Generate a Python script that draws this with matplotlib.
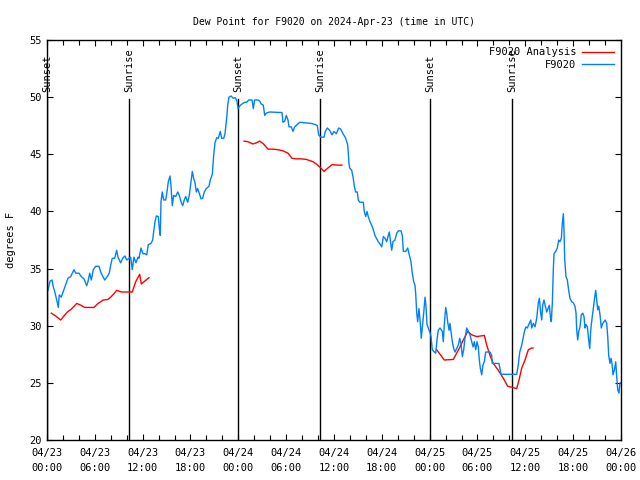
import matplotlib
matplotlib.use("Agg")
import matplotlib.pyplot as plt
import matplotlib.dates as mdates
import pandas as pd
import numpy as np

plt.rcParams.update({
    "font.family": "DejaVu Sans Mono",
    "font.size": 7.5,
})

# -----------------------------------------------------------
# data (hours since 2024-04-23 00:00 UTC, degrees F)
# -----------------------------------------------------------
base = pd.Timestamp("2024-04-23 00:00")

obs_hours = [
    0.13, 0.38, 0.63, 0.79, 0.97, 1.22, 1.42, 1.54, 1.79, 2.04, 2.35, 2.63, 2.97, 3.39, 3.60,
    4.01, 4.30, 4.64, 4.98, 5.14, 5.36, 5.56, 5.81, 6.11, 6.52, 6.74, 6.94, 7.24, 7.56, 7.81,
    7.99, 8.19, 8.49, 8.74, 8.91, 9.24, 9.50, 9.78, 10.0, 10.29, 10.50, 10.70, 10.91, 11.16, 11.42,
    11.54, 11.79, 12.04, 12.29, 12.51, 12.71, 13.05, 13.26, 13.38, 13.55, 13.71, 13.96, 14.09, 14.21, 14.30,
    14.46, 14.64, 14.89, 15.05, 15.22, 15.43, 15.55, 15.72, 15.89, 16.14, 16.40, 16.60, 16.81, 17.02, 17.22,
    17.40, 17.65, 17.85, 18.06, 18.23, 18.40, 18.57, 18.73, 18.90, 19.10, 19.32, 19.53, 19.73, 19.98, 20.32,
    20.48, 20.74, 20.91, 21.07, 21.29, 21.49, 21.74, 21.91, 22.17, 22.33, 22.54, 22.67, 22.83, 23.08, 23.37,
    23.62, 23.83, 23.96, 24.21, 24.46, 24.80, 25.05, 25.30, 25.72, 25.88, 26.05, 26.47, 26.68, 26.88, 27.13,
    27.31, 27.51, 27.94, 29.48, 29.60, 29.82, 30.02, 30.23, 30.36, 30.64, 30.86, 31.07, 31.40, 31.70, 33.15,
    33.66, 33.91, 34.08, 34.33, 34.75, 34.91, 35.16, 35.46, 35.75, 36.00, 36.29, 36.59, 36.84, 37.13, 37.47,
    37.72, 37.80, 37.88, 37.97, 38.22, 38.42, 38.55, 38.72, 38.92, 39.05, 39.23, 39.68, 39.80, 39.98, 40.14,
    40.30, 40.52, 40.73, 40.93, 41.14, 41.36, 41.56, 41.77, 41.99, 42.19, 42.40, 42.61, 42.81, 42.94, 43.06,
    43.24, 43.40, 43.65, 43.87, 44.07, 44.41, 44.57, 44.70, 45.00, 45.25, 45.41, 45.66, 45.82, 46.00, 46.16,
    46.25, 46.38, 46.50, 46.66, 46.83, 46.95, 47.13, 47.25, 47.42, 47.54, 47.67, 47.83, 48.04, 48.17, 48.33,
    48.58, 48.76, 48.92, 49.08, 49.30, 49.59, 49.71, 49.84, 50.01, 50.14, 50.26, 50.43, 50.55, 50.68, 50.84,
    51.02, 51.18, 51.39, 51.59, 51.77, 51.93, 52.10, 52.27, 52.43, 52.65, 52.85, 53.06, 53.28, 53.44, 53.60,
    53.78, 53.94, 54.10, 54.23, 54.35, 54.53, 54.69, 54.86, 55.03, 55.57, 55.78, 55.86, 56.70, 56.95, 58.92,
    59.12, 59.30, 59.55, 59.75, 59.92, 60.09, 60.25, 60.50, 60.68, 60.80, 61.00, 61.22, 61.43, 61.63, 61.76,
    61.93, 62.06, 62.18, 62.34, 62.51, 62.68, 62.85, 63.01, 63.14, 63.26, 63.39, 63.51, 63.60, 63.81, 64.01,
    64.19, 64.35, 64.52, 64.64, 64.77, 64.85, 64.94, 65.10, 65.27, 65.44, 65.60, 65.82, 66.02, 66.23, 66.36,
    66.45, 66.57, 66.70, 66.86, 67.02, 67.20, 67.36, 67.49, 67.61, 67.78, 67.95, 68.08, 68.20, 68.37, 68.53,
    68.70, 68.83, 68.95, 69.08, 69.21, 69.37, 69.53, 69.71, 69.87, 70.03, 70.21, 70.34, 70.46, 70.62, 70.75,
    70.87, 71.00, 71.16, 71.34, 71.46, 71.59, 71.75, 71.87, 72.0,
]
obs_dewpt = [
    33.1, 33.9, 34.0, 33.4, 33.0, 32.25, 31.6, 32.7, 32.5, 33.0, 33.6, 34.15, 34.3, 34.9, 34.6,
    34.6, 34.3, 34.1, 33.5, 33.85, 34.6, 34.0, 34.9, 35.2, 35.2, 34.7, 34.4, 34.0, 34.3, 34.6,
    35.3, 35.9, 35.9, 36.6, 36.0, 35.5, 35.9, 36.1, 35.75, 35.9, 36.0, 34.9, 36.0, 35.5, 36.0,
    35.9, 36.8, 36.3, 36.3, 36.2, 37.1, 37.2, 37.5, 38.2, 39.1, 39.6, 39.55, 38.5, 37.9, 40.85,
    41.7, 41.0, 41.0, 41.7, 42.6, 43.1, 42.3, 40.5, 41.4, 41.3, 41.7, 41.4, 40.85, 40.5, 41.0,
    41.3, 40.8, 41.4, 42.6, 43.5, 42.9, 42.5, 41.7, 42.0, 41.6, 41.1, 41.15, 41.7, 42.0, 42.2,
    42.75, 43.25, 44.9, 46.0, 46.45, 46.4, 47.0, 46.4, 46.4, 46.8, 48.15, 49.3, 50.0, 50.1, 49.9,
    49.95, 49.65, 49.0, 49.25, 49.4, 49.55, 49.55, 49.75, 49.75, 49.0, 49.75, 49.75, 49.65, 49.4, 49.3,
    48.4, 48.6, 48.7, 48.65, 47.8, 47.9, 48.4, 48.0, 47.4, 47.4, 47.0, 47.4, 47.6, 47.8, 47.7,
    47.6, 47.5, 46.7, 46.5, 46.5, 47.0, 47.3, 47.1, 46.7, 47.0, 46.8, 47.3, 47.2, 46.8, 46.4,
    45.8, 45.1, 44.2, 43.8, 43.6, 42.9, 42.2, 41.7, 41.7, 41.0, 40.8, 40.8, 40.0, 39.55, 40.0,
    39.55, 39.1, 38.8, 38.4, 37.9, 37.6, 37.35, 37.15, 36.9, 37.8, 37.65, 37.35, 37.9, 38.2, 37.5,
    36.6, 37.35, 37.5, 38.1, 38.3, 38.3, 37.9, 36.5, 36.5, 36.8, 36.3, 35.6, 34.6, 33.85, 33.55,
    32.8, 31.1, 30.35, 31.5, 30.2, 28.9, 30.2, 31.1, 32.5, 31.7, 30.1, 29.8, 29.4, 29.05, 27.9,
    27.7, 27.6, 28.75, 29.6, 29.8, 29.5, 28.6, 30.1, 31.6, 31.1, 30.35, 29.6, 30.2, 29.5, 28.6,
    28.0, 27.7, 28.0, 28.3, 28.9, 28.45, 27.3, 27.9, 28.9, 29.8, 29.5, 29.2, 28.6, 28.15, 28.6,
    27.9, 28.6, 28.15, 27.0, 26.3, 25.7, 26.6, 26.85, 27.7, 27.7, 27.4, 26.7, 26.7, 25.75, 25.75,
    26.6, 27.7, 28.3, 29.0, 29.6, 29.9, 29.8, 30.2, 30.5, 29.8, 30.2, 29.9, 30.65, 32.0, 32.4,
    31.1, 30.5, 31.8, 32.25, 31.7, 31.2, 31.5, 31.8, 30.8, 30.35, 32.0, 34.9, 36.3, 36.5, 36.8,
    37.5, 37.35, 37.65, 38.95, 39.8, 38.4, 35.8, 34.3, 34.0, 33.1, 32.4, 32.1, 32.0, 31.7, 31.1,
    29.6, 28.75, 29.5, 29.9, 30.95, 31.1, 30.8, 29.8, 30.1, 29.9, 28.75, 28.0, 29.6, 30.65, 31.5,
    32.5, 33.1, 32.25, 31.4, 31.7, 30.95, 29.8, 30.2, 30.35, 30.5, 30.2, 29.0, 27.4, 26.7, 27.15,
    26.7, 25.7, 26.1, 26.85, 25.55, 24.4, 24.1, 25.0, 25.0,
]

# analysis runs (three separate pieces)
ana1_hours = [0.54, 1.09, 1.72, 2.13, 2.55, 2.97, 3.39, 3.73, 4.23, 4.73, 5.90, 6.40, 7.06, 7.65,
              7.99, 8.40, 8.74, 9.32, 10.70, 11.13, 11.63, 11.83, 12.17, 12.79]
ana1_dewpt = [31.1, 30.85, 30.5, 30.85, 31.2, 31.4, 31.7, 31.95, 31.8, 31.6, 31.6, 31.95, 32.25, 32.3,
              32.5, 32.8, 33.1, 32.95, 32.95, 33.85, 34.5, 33.65, 33.85, 34.2]
ana2_hours = [24.71, 25.21, 25.84, 26.26, 26.68, 27.10, 27.72, 28.35, 28.98, 29.60, 30.23, 30.73,
              31.27, 31.90, 32.53, 32.95, 33.37, 33.78, 34.21, 34.75, 35.25, 35.75, 36.50, 37.00]
ana2_dewpt = [46.15, 46.1, 45.9, 46.0, 46.15, 45.95, 45.45, 45.45, 45.4, 45.3, 45.1, 44.65,
              44.6, 44.6, 44.55, 44.45, 44.35, 44.15, 43.9, 43.5, 43.8, 44.1, 44.05, 44.05]
ana3_hours = [48.88, 49.84, 50.97, 51.39, 51.81, 52.22, 52.77, 53.28, 53.90, 54.86, 55.16, 55.57,
              55.98, 56.61, 57.24, 57.79, 58.37, 58.92, 59.21, 59.55, 59.96, 60.38, 60.80, 60.97]
ana3_dewpt = [27.9, 27.0, 27.05, 27.6, 28.15, 28.75, 29.5, 29.2, 29.05, 29.15, 28.3, 27.4,
              26.7, 26.1, 25.4, 24.7, 24.6, 24.5, 25.25, 26.3, 27.0, 27.9, 28.05, 28.05]

sunset_hours = [0.0, 23.97, 48.03]
sunrise_hours = [10.29, 34.25, 58.33]


def to_time(hours):
    return base + pd.to_timedelta(np.asarray(hours), unit="h")


# -----------------------------------------------------------
# figure
# -----------------------------------------------------------
fig = plt.figure(figsize=(6.4, 4.8), dpi=100)
ax = fig.add_axes([0.0734, 0.0833, 0.8969, 0.8334])

# sunrise / sunset markers
for h in sunset_hours:
    ax.plot([to_time([h])[0]] * 2, [20, 49.85], color="black", lw=1.0)
    ax.text(to_time([h])[0], 50.45, "Sunset", rotation=90, ha="center", va="bottom")
for h in sunrise_hours:
    ax.plot([to_time([h])[0]] * 2, [20, 49.85], color="black", lw=1.0)
    ax.text(to_time([h])[0], 50.45, "Sunrise", rotation=90, ha="center", va="bottom")

ax.plot(to_time(ana1_hours), ana1_dewpt, color="red", lw=1.0, label="F9020 Analysis")
ax.plot(to_time(ana2_hours), ana2_dewpt, color="red", lw=1.0)
ax.plot(to_time(ana3_hours), ana3_dewpt, color="red", lw=1.0)
ax.plot(to_time(obs_hours), obs_dewpt, color="#0080ff", lw=1.0, label="F9020")

ax.set_xlim(base, base + pd.Timedelta(hours=72))
ax.set_ylim(20, 55)
ax.set_yticks(range(20, 56, 5))

ax.xaxis.set_major_locator(mdates.HourLocator(byhour=range(0, 24, 6)))
ax.xaxis.set_minor_locator(mdates.HourLocator(byhour=range(0, 24, 2)))
ax.xaxis.set_major_formatter(mdates.DateFormatter("%m/%d\n%H:%M"))

ax.tick_params(which="both", direction="in", top=True, right=True)
ax.tick_params(which="major", length=4.5, width=0.8)
ax.tick_params(which="minor", length=3.5, width=0.8)
ax.tick_params(axis="x", pad=6)
for lbl in ax.get_xticklabels():
    lbl.set_linespacing(1.6)

for s in ax.spines.values():
    s.set_linewidth(1.0)

ax.set_ylabel("degrees F", labelpad=10)
ax.set_title("Dew Point for F9020 on 2024-Apr-23 (time in UTC)", fontsize=7.0, pad=11)

ax.legend(loc="upper right", frameon=False, markerfirst=False, handlelength=3.0,
          handletextpad=0.6, borderaxespad=0.3, labelspacing=0.25)

fig.savefig("out.png", dpi=100)
